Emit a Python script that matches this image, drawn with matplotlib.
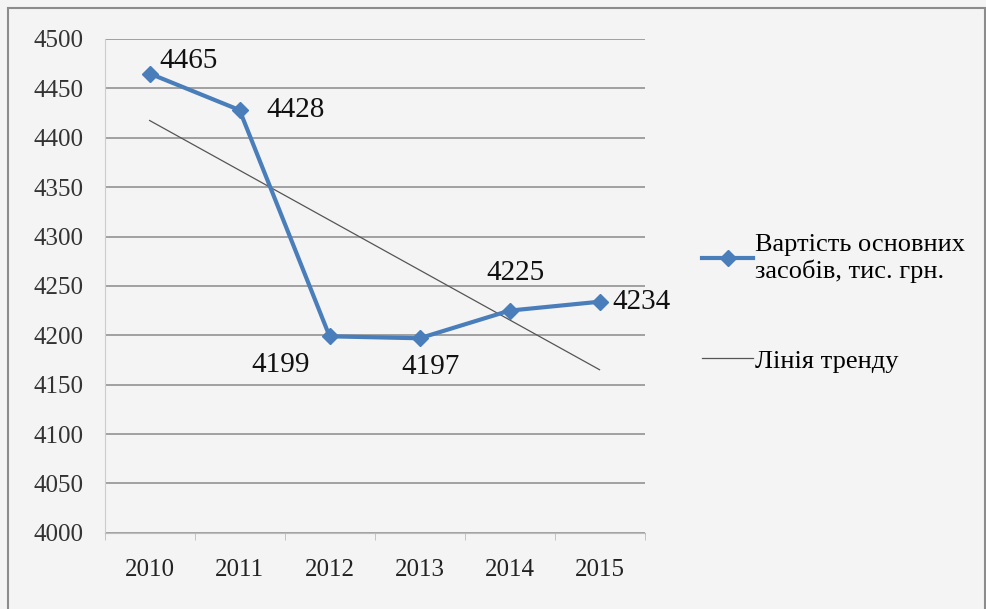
import numpy as np
import matplotlib.pyplot as plt
from matplotlib.patches import Rectangle

years = ['2010', '2011', '2012', '2013', '2014', '2015']
values = [4465, 4428, 4199, 4197, 4225, 4234]
series_name = 'Вартість основних\nзасобів, тис. грн.'
trend_name = 'Лінія тренду'

plt.rcParams['font.family'] = ['Liberation Serif', 'DejaVu Serif']

x = np.arange(len(years))
k, b = np.polyfit(x, values, 1)
trend = k * x + b

fig = plt.figure(figsize=(9.87, 6.09), dpi=100)
fig.patch.set_facecolor('#f4f4f4')
fig.add_artist(Rectangle((0.008, -0.01), 0.99, 0.997, transform=fig.transFigure,
                         fill=False, edgecolor='#8c8c8c', linewidth=1.5))
ax = fig.add_axes([0.106, 0.125, 0.547, 0.811])
ax.set_facecolor('#f4f4f4')

line, = ax.plot(x, values, color='#4a7ebb', linewidth=3, marker='D', markersize=8,
                label=series_name, zorder=3)
tl, = ax.plot(x, trend, color='#555555', linewidth=0.9, label=trend_name, zorder=2)

ax.set_xlim(-0.5, 5.5)
ax.set_ylim(4000, 4500)
ax.set_yticks(np.arange(4000, 4501, 50))
ax.set_xticks(x)
ax.set_xticklabels(years)
ax.set_xticks(np.arange(-0.5, 5.6, 1), minor=True)
ax.tick_params(axis='x', which='major', length=0, pad=19, labelsize=18, labelcolor='#222222')
ax.tick_params(axis='x', which='minor', length=5, color='#bbbbbb')
ax.tick_params(axis='y', length=0, pad=15, labelsize=18, labelcolor='#333333')
ax.grid(axis='y', color='#9a9a9a', linewidth=1.3)
ax.set_axisbelow(True)
for s in ['top', 'right']:
    ax.spines[s].set_visible(False)
ax.spines['left'].set_color('#cccccc')
ax.spines['bottom'].set_color('#bbbbbb')

offsets = [(7, 9, 'left'), (19, 0, 'left'), (-14, -21, 'right'),
           (8, -21, 'center'), (4, 27, 'center'), (9, 0, 'left')]
for xi, v, (dx, dy, ha) in zip(x, values, offsets):
    ax.annotate(str(v), (xi, v), xytext=(dx, dy), textcoords='offset points',
                ha=ha, va='center', fontsize=21, color='#111111')

fig.legend(handles=[line, tl], loc='center left', bbox_to_anchor=(0.701, 0.502),
           frameon=False, fontsize=19, labelspacing=2.5, handlelength=1.9,
           handletextpad=0.1, borderaxespad=0)

fig.savefig('out.png', dpi=100, facecolor=fig.get_facecolor())
